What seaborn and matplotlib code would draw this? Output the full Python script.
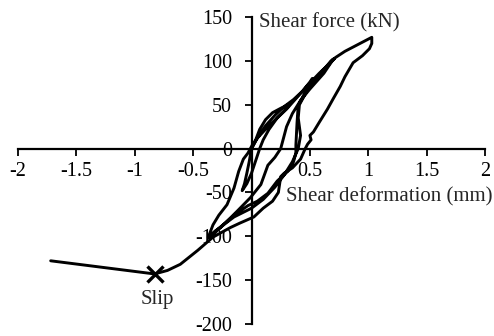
import numpy as np
import pandas as pd
import matplotlib
matplotlib.use("Agg")
import matplotlib.pyplot as plt
import seaborn as sns

# shear deformation (mm) / shear force (kN), in loading order
deformation = [
    0.00, 0.03, 0.07, 0.12, 0.18, 0.25, 0.33,
    0.28, 0.22, 0.15, 0.10, 0.07, 0.04, 0.00, -0.04, -0.08,
    -0.06, -0.04, -0.02, 0.00,
    0.05, 0.12, 0.20, 0.28, 0.36, 0.44, 0.50, 0.52, 0.56, 0.58, 0.63, 0.68, 0.71,
    0.66, 0.58, 0.48, 0.38, 0.30, 0.22, 0.12, 0.05, 0.01, -0.03, -0.07, -0.11, -0.15,
    -0.21, -0.28, -0.33, -0.37,
    -0.27, -0.15, -0.03, 0.05, 0.14, 0.22, 0.31, 0.36, 0.38, 0.38, 0.39, 0.40, 0.45,
    0.52, 0.58, 0.64, 0.70,
    0.62, 0.50, 0.42, 0.35, 0.30, 0.27, 0.25, 0.20, 0.14, 0.08, -0.01, -0.12, -0.24,
    -0.33, -0.37,
    -0.30, -0.15, 0.00, 0.10, 0.20, 0.28, 0.35, 0.40, 0.42, 0.40, 0.41, 0.50, 0.62,
    0.72, 0.80, 0.90, 1.03,
    1.03, 1.01, 0.95, 0.87, 0.80, 0.76, 0.70, 0.65, 0.58, 0.53, 0.50, 0.51, 0.48, 0.46,
    0.42, 0.35, 0.28, 0.25, 0.23, 0.18, 0.10, 0.02, -0.10, -0.18, -0.33, -0.46, -0.61,
    -0.72, -0.83, -1.72,
]
force = [
    0, 8, 22, 33, 41, 46, 51,
    43, 35, 22, 10, 0, -12, -28, -40, -48,
    -40, -28, -15, 0,
    12, 26, 38, 48, 56, 66, 76, 80, 79, 84, 92, 100, 103,
    96, 86, 72, 57, 45, 35, 22, 12, 5, -5, -12, -26, -45,
    -64, -76, -87, -101,
    -90, -76, -65, -60, -51, -37, -26, -15, -5, 4, 30, 49, 62,
    74, 84, 93, 102,
    86, 68, 55, 40, 25, 10, 0, -10, -19, -41, -56, -71, -87,
    -98, -101,
    -93, -78, -68, -58, -44, -30, -15, 0, 15, 35, 50, 72, 90,
    104, 111, 118, 127,
    120, 114, 106, 98, 82, 71, 57, 45, 30, 19, 15, 10, 5, 0,
    -12, -22, -28, -32, -50, -60, -68, -78, -85, -90, -101, -116, -132,
    -139, -143, -128,
]
slip_point = (-0.83, -143)

x_ticks = [-2, -1.5, -1, -0.5, 0.5, 1, 1.5, 2]
x_labels = ["-2", "-1.5", "-1", "-0.5", "0.5", "1", "1.5", "2"]
y_ticks = [-200, -150, -100, -50, 0, 50, 100, 150]

df = pd.DataFrame({"step": range(len(force)), "x": deformation, "y": force})

sns.set_theme(style="white")
plt.rcParams["font.family"] = ["Liberation Serif", "DejaVu Serif"]
plt.rcParams["axes.unicode_minus"] = False

fig = plt.figure(figsize=(4.94, 3.36), dpi=100)
ax = fig.add_axes([0.0364, 0.036, 0.9455, 0.913])

sns.lineplot(data=df, x="x", y="y", sort=False, estimator=None,
             color="black", linewidth=2.1, ax=ax)
ax.plot(*slip_point, marker="x", color="black", markersize=11,
        markeredgewidth=2.4)
ax.text(slip_point[0] + 0.02, -172, "Slip", ha="center", va="center", fontsize=15)

ax.set_xlim(-2, 2)
ax.set_ylim(-200, 150)

# axes crossing at the origin
for side in ["top", "right"]:
    ax.spines[side].set_visible(False)
ax.spines["left"].set_position(("data", 0))
ax.spines["bottom"].set_position(("data", 0))
for side in ["left", "bottom"]:
    ax.spines[side].set_color("black")
    ax.spines[side].set_linewidth(1.6)

ax.set_xticks(x_ticks)
ax.set_xticklabels(x_labels)
ax.set_yticks(y_ticks)
ax.tick_params(axis="both", direction="out", length=5, width=1.3,
               color="black", labelsize=14.5, labelcolor="black")
ax.tick_params(axis="x", bottom=True, pad=5)
ax.tick_params(axis="y", left=True, pad=9)
ax.set_xlabel("")
ax.set_ylabel("")

ax.text(0.06, 144, "Shear force (kN)", ha="left", va="center", fontsize=15)
ax.text(2.06, -55, "Shear deformation (mm)", ha="right", va="center",
        fontsize=15, clip_on=False)

fig.savefig("out.png", dpi=100)
